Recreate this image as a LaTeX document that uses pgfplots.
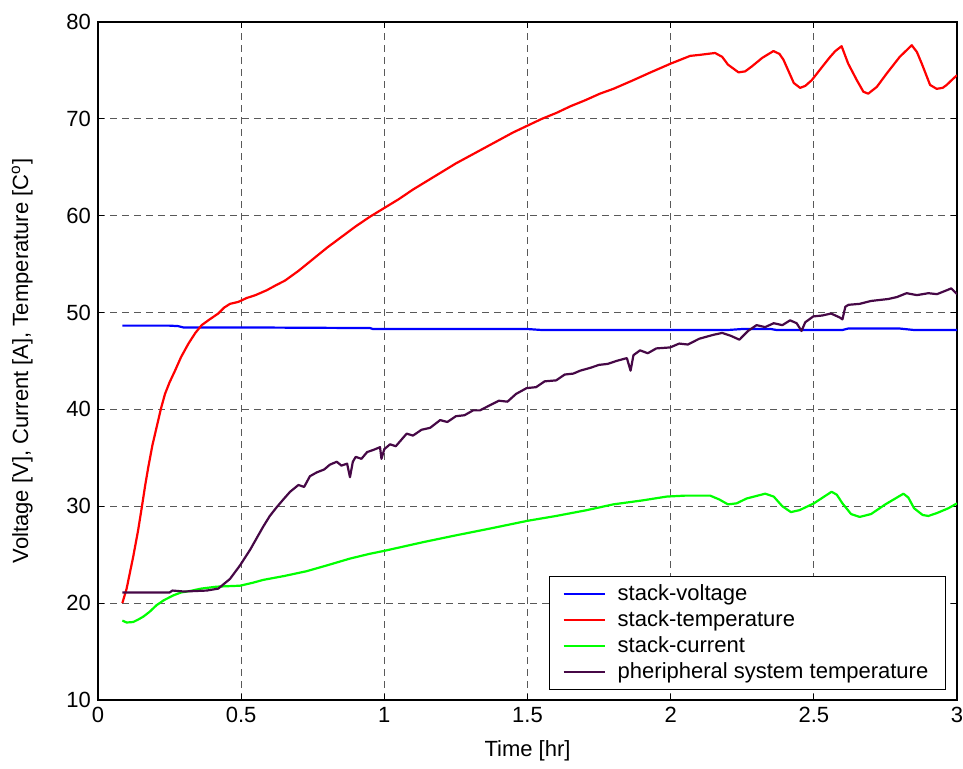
\documentclass[border=0pt]{standalone}
\usepackage{fontspec}
\setmainfont{Liberation Sans}
\usepackage{pgfplots}
\pgfplotsset{compat=1.18}
\usetikzlibrary{calc}
\definecolor{pviolet}{RGB}{70,8,70}
\begin{document}
\begin{tikzpicture}
\begin{axis}[
  scale only axis,
  width=429.5pt, height=339pt,
  xmin=0, xmax=3, ymin=10, ymax=80,
  xtick={0,0.5,...,3}, ytick={10,20,...,80},
  xticklabels={0,0.5,1,1.5,2,2.5,3},
  tick align=inside, major tick length=3pt,
  tick style={black, line width=0.5pt},
  axis line style={black, line width=0.6pt},
  grid=major,
  major grid style={black!65, line width=0.5pt, dash pattern=on 3.5pt off 2.5pt},
  font=\fontsize{11}{13}\selectfont,
  /pgf/number format/assume math mode=true,
  xlabel={Time [hr]},
  ylabel={Voltage [V], Current [A], Temperature [C\textsuperscript{o}]},
  xlabel style={yshift=-2pt},
  ylabel style={yshift=10pt},
  legend cell align=left,
  legend style={at={(0.987,0.015)}, anchor=south east, draw=black, line width=0.5pt,
    font=\fontsize{11}{13}\selectfont, row sep=-0.5pt, inner xsep=6.5pt, inner ysep=2pt},
  legend image code/.code={\draw[#1, line width=1.1pt] (0pt,0pt) -- (20.5pt,0pt);
    \path (24.5pt,0pt);},
  every axis plot/.append style={line width=1.1pt, line join=round},
]
\addplot[color=blue] coordinates {
(0.085,48.65) (0.25,48.65) (0.28,48.6) (0.3,48.45) (0.6,48.45) (0.95,48.4) (0.96,48.3)
(1.5,48.3) (1.55,48.2) (2.2,48.2) (2.25,48.3) (2.35,48.3) (2.37,48.2) (2.6,48.2)
(2.62,48.35) (2.8,48.35) (2.85,48.2) (3,48.2)
};
\addlegendentry{stack-voltage}
\addplot[color=red] coordinates {
(0.085,20.0) (0.1,21.5) (0.123,24.8) (0.14,27.5) (0.153,29.9) (0.165,32.2) (0.176,34.1)
(0.19,36.3) (0.205,38.2) (0.22,40.1) (0.234,41.6) (0.25,42.8) (0.269,44.0) (0.29,45.4)
(0.316,46.8) (0.34,47.9) (0.362,48.7) (0.39,49.3) (0.42,49.9) (0.44,50.5) (0.461,50.9)
(0.49,51.1) (0.519,51.5) (0.55,51.8) (0.589,52.3) (0.62,52.8) (0.653,53.3) (0.7,54.3)
(0.75,55.5) (0.8,56.7) (0.85,57.8) (0.9,58.9) (0.95,59.9) (1.0,60.8) (1.05,61.7)
(1.1,62.7) (1.15,63.6) (1.2,64.5) (1.25,65.4) (1.3,66.2) (1.35,67.0) (1.4,67.8)
(1.45,68.6) (1.5,69.3) (1.55,70.0) (1.6,70.6) (1.65,71.3) (1.7,71.9) (1.753,72.6)
(1.8,73.1) (1.87,74.0) (1.93,74.8) (2.0,75.7) (2.068,76.5) (2.1,76.6) (2.155,76.8)
(2.18,76.4) (2.2,75.6) (2.237,74.8) (2.26,74.9) (2.283,75.4) (2.32,76.3) (2.359,77.0)
(2.38,76.7) (2.394,76.1) (2.43,73.7) (2.452,73.2) (2.47,73.4) (2.493,74.0) (2.53,75.4)
(2.557,76.4) (2.575,77.0) (2.597,77.5) (2.62,75.7) (2.65,74.0) (2.673,72.8) (2.69,72.6)
(2.72,73.3) (2.755,74.7) (2.8,76.4) (2.842,77.6) (2.86,76.9) (2.877,75.7) (2.906,73.5)
(2.929,73.1) (2.95,73.2) (2.964,73.5) (2.985,74.1) (3.0,74.5)
};
\addlegendentry{stack-temperature}
\addplot[color=green] coordinates {
(0.085,18.2) (0.1,18.0) (0.123,18.05) (0.14,18.3) (0.158,18.6) (0.18,19.1) (0.205,19.8)
(0.23,20.3) (0.263,20.8) (0.29,21.1) (0.321,21.25) (0.36,21.5) (0.414,21.7) (0.496,21.8)
(0.54,22.1) (0.577,22.4) (0.65,22.8) (0.729,23.3) (0.8,23.9) (0.88,24.6) (0.95,25.1)
(1.0,25.4) (1.136,26.3) (1.25,27.0) (1.369,27.7) (1.5,28.5) (1.6,29.0) (1.707,29.6)
(1.8,30.2) (1.9,30.6) (1.986,31.0) (2.05,31.1) (2.138,31.1) (2.17,30.7) (2.2,30.2)
(2.23,30.3) (2.265,30.8) (2.33,31.3) (2.36,31.0) (2.39,30.0) (2.42,29.4) (2.45,29.6)
(2.5,30.3) (2.562,31.5) (2.58,31.2) (2.6,30.3) (2.63,29.2) (2.66,28.9) (2.7,29.2)
(2.75,30.2) (2.813,31.3) (2.83,30.9) (2.85,29.8) (2.88,29.1) (2.9,29.0) (2.93,29.3)
(2.97,29.8) (3.0,30.3)
};
\addlegendentry{stack-current}
\addplot[color=pviolet] coordinates {
(0.085,21.1) (0.25,21.1) (0.26,21.3) (0.3,21.2) (0.38,21.3) (0.42,21.5) (0.461,22.5)
(0.496,23.9) (0.531,25.5) (0.577,27.9) (0.6,29.0) (0.624,29.9) (0.65,30.8) (0.671,31.5)
(0.7,32.2) (0.72,32.0) (0.74,33.1) (0.764,33.5) (0.79,33.8) (0.81,34.3) (0.834,34.6)
(0.85,34.2) (0.87,34.4) (0.88,33.0) (0.89,34.6) (0.9,35.1) (0.92,34.9) (0.94,35.6)
(0.96,35.8) (0.985,36.1) (0.99,34.9) (1.0,35.9) (1.02,36.4) (1.04,36.2) (1.078,37.5)
(1.1,37.3) (1.13,37.9) (1.16,38.1) (1.195,38.9) (1.22,38.7) (1.25,39.3) (1.28,39.4)
(1.31,39.9) (1.334,39.9) (1.36,40.3) (1.4,40.9) (1.43,40.8) (1.46,41.6) (1.497,42.2)
(1.53,42.3) (1.56,42.9) (1.6,43.0) (1.63,43.6) (1.66,43.7) (1.684,44.0) (1.72,44.3)
(1.75,44.6) (1.78,44.7) (1.81,45.0) (1.847,45.3) (1.86,44.0) (1.87,45.6) (1.893,46.1)
(1.92,45.8) (1.95,46.3) (1.998,46.4) (2.03,46.8) (2.06,46.7) (2.1,47.3) (2.149,47.7)
(2.18,47.9) (2.21,47.6) (2.24,47.2) (2.27,48.1) (2.3,48.7) (2.33,48.5) (2.36,48.9)
(2.39,48.7) (2.417,49.2) (2.44,48.9) (2.457,48.1) (2.47,49.0) (2.498,49.6) (2.53,49.7)
(2.56,49.9) (2.59,49.5) (2.6,49.3) (2.61,50.6) (2.621,50.8) (2.66,50.9) (2.7,51.2)
(2.73,51.3) (2.76,51.4) (2.79,51.6) (2.824,52.0) (2.86,51.8) (2.9,52.0) (2.93,51.9)
(2.964,52.3) (2.98,52.5) (3.0,51.9)
};
\addlegendentry{pheripheral system temperature}
\end{axis}
\pgfresetboundingbox
\path[use as bounding box] ($(current axis.south west)+(-49pt,-34.5pt)$) rectangle ($(current axis.north east)+(3pt,11pt)$);
\end{tikzpicture}
\end{document}
